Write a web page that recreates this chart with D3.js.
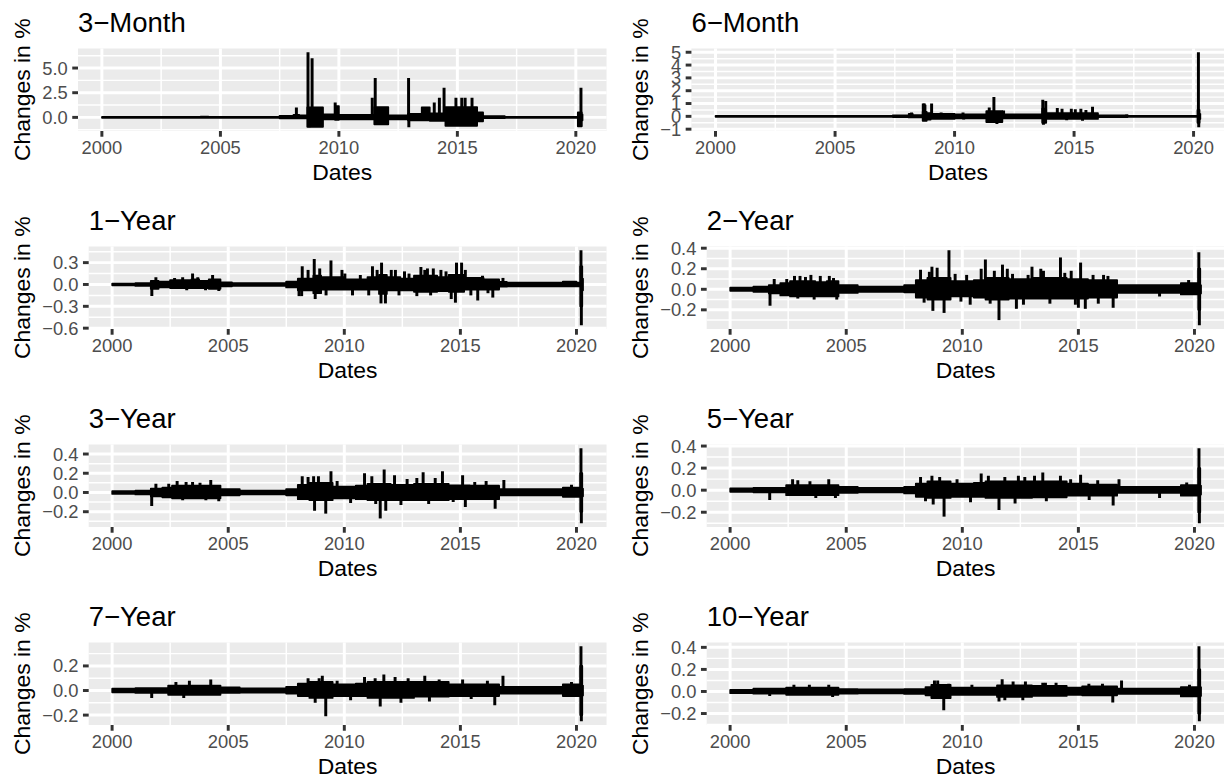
<!DOCTYPE html>
<html>
<head>
<meta charset="utf-8">
<script src="https://cdn.jsdelivr.net/npm/d3@7"></script>
<style>
  body { margin: 0; background: #ffffff; }
  svg { display: block; font-family: "Liberation Sans", Arial, Helvetica, sans-serif; }
</style>
</head>
<body>
<div id="chart"></div>
<script>
// Daily changes in yields (in %) by maturity, 2000 – Apr 2020.
// A daily series is far too dense to type out, so each panel is kept as
// an envelope of the noise band ([date, high, low], held until the next
// row) plus the individual spikes that stick out of it, all read off
// the picture.

const TITLES = ["3\u2212Month", "6\u2212Month", "1\u2212Year", "2\u2212Year",
                "3\u2212Year", "5\u2212Year", "7\u2212Year", "10\u2212Year"];
const X_TICKS = [2000, 2005, 2010, 2015, 2020];
const DATE_START = "2000-01-03";
const DATE_END = "2020-04-13";

const ticks3M = [0, 2.5, 5];
const ticks6M = [-1, 0, 1, 2, 3, 4, 5];
const ticks1Y = [-0.6, -0.3, 0, 0.3];
const ticks2Y = [-0.2, 0, 0.2, 0.4];
const ticks3Y = [-0.2, 0, 0.2, 0.4];
const ticks5Y = [-0.2, 0, 0.2, 0.4];
const ticks7Y = [-0.2, 0, 0.2];
const ticks10Y = [-0.2, 0, 0.2, 0.4];

const band3M = [
  ["2000-01", 0.04, -0.04], ["2004-03", 0.08, -0.04], ["2004-07", 0.04, -0.04],
  ["2007-07", 0.15, -0.1], ["2008-02", 0.25, -0.1], ["2008-05", 0.2, -0.1],
  ["2008-09", 1.0, -0.95], ["2009-05", 0.3, -0.2], ["2009-11", 1.15, -0.25],
  ["2010-01", 0.25, -0.2], ["2011-07", 1.05, -0.7], ["2012-02", 0.2, -0.2],
  ["2012-12", 0.35, -0.3], ["2013-07", 1.0, -0.3], ["2013-11", 0.4, -0.35],
  ["2014-07", 1.05, -0.85], ["2015-11", 0.5, -0.4], ["2016-02", 0.12, -0.08],
  ["2017-01", 0.05, -0.05], ["2020-02", 0.5, -0.9], ["2020-04", 0.3, -0.3],
];
const spikes3M = [
  ["2008-03-17", 1.0], ["2008-09-12", 6.6], ["2008-11-14", 6.0], ["2008-10-01", -1.0],
  ["2009-11-05", 1.5], ["2011-05-30", 2.0], ["2011-07-15", 4.0], ["2012-12-10", 4.0],
  ["2012-12-14", -1.0], ["2014-01-10", 1.5], ["2014-03-30", 2.0], ["2014-06-10", 3.0],
  ["2014-12-10", 2.0], ["2015-03-10", 2.0], ["2015-05-01", 2.0], ["2015-08-15", 2.0],
  ["2020-03-20", 3.0], ["2020-03-16", -0.9],
];

const band6M = [
  ["2000-01", 0.04, -0.04], ["2007-06", 0.07, -0.06], ["2008-02", 0.2, -0.08],
  ["2008-04", 0.1, -0.08], ["2008-09", 0.35, -0.35], ["2008-11", 0.25, -0.25],
  ["2009-01", 0.2, -0.2], ["2010-01", 0.15, -0.15], ["2011-05", 0.4, -0.45],
  ["2012-01", 0.15, -0.15], ["2013-09", 0.6, -0.5], ["2013-11", 0.25, -0.2],
  ["2016-01", 0.08, -0.05], ["2017-04", 0.04, -0.04], ["2020-03", 0.5, -0.5],
  ["2020-04", 0.2, -0.2],
];
const spikes6M = [
  ["2008-03-15", 0.3], ["2008-09-10", 1.0], ["2008-09-25", 1.0], ["2008-10-05", 0.9],
  ["2009-01-15", 1.0], ["2009-06-10", 0.3], ["2010-05-10", 0.3], ["2010-05-20", -0.25],
  ["2011-06-15", 0.7], ["2011-08-25", 1.5], ["2011-10-10", -0.6], ["2012-01-20", 0.45],
  ["2013-09-10", 1.3], ["2013-10-25", 1.2], ["2013-09-20", -0.65], ["2014-04-20", 0.65],
  ["2014-07-01", 0.6], ["2014-11-20", 0.6], ["2015-01-20", 0.55], ["2015-04-15", 0.6],
  ["2015-07-01", 0.5], ["2015-10-10", 0.75], ["2014-09-10", -0.3], ["2015-05-10", -0.35],
  ["2017-03-15", 0.15], ["2020-03-15", 5.0], ["2020-03-20", -0.85],
];

const band1Y = [
  ["2000-01", 0.012, -0.012], ["2001-01", 0.02, -0.02], ["2001-09", 0.05, -0.06],
  ["2002-01", 0.04, -0.04], ["2002-07", 0.06, -0.05], ["2003-06", 0.07, -0.05],
  ["2003-10", 0.05, -0.05], ["2004-03", 0.07, -0.06], ["2004-09", 0.03, -0.025],
  ["2005-03", 0.02, -0.02], ["2007-07", 0.04, -0.04], ["2008-01", 0.08, -0.08],
  ["2008-09", 0.12, -0.12], ["2009-01", 0.1, -0.07], ["2010-01", 0.07, -0.07],
  ["2011-01", 0.1, -0.07], ["2011-07", 0.13, -0.13], ["2011-11", 0.1, -0.08],
  ["2012-06", 0.08, -0.08], ["2013-01", 0.12, -0.1], ["2014-01", 0.1, -0.09],
  ["2014-07", 0.13, -0.1], ["2015-03", 0.09, -0.07], ["2016-01", 0.07, -0.07],
  ["2016-09", 0.035, -0.03], ["2017-01", 0.025, -0.025], ["2019-06", 0.04, -0.025],
  ["2020-01", 0.025, -0.025], ["2020-03", 0.25, -0.3], ["2020-04", 0.08, -0.08],
];
const spikes1Y = [
  ["2001-09-17", -0.16], ["2001-11-20", 0.1], ["2002-09-10", 0.09], ["2003-01-15", 0.1],
  ["2003-03-20", -0.08], ["2003-06-20", 0.15], ["2003-09-10", 0.1], ["2004-01-10", -0.08],
  ["2004-04-30", 0.13], ["2004-08-06", -0.09], ["2008-01-20", -0.16], ["2008-03-10", 0.25],
  ["2008-03-01", -0.16], ["2008-06-10", 0.2], ["2008-09-15", 0.35], ["2008-09-30", -0.2],
  ["2008-12-10", 0.22], ["2009-03-20", -0.15], ["2009-06-05", 0.33], ["2009-11-25", 0.2],
  ["2010-01-10", 0.15], ["2010-05-10", -0.15], ["2010-09-10", 0.13], ["2011-01-20", -0.15],
  ["2011-03-20", 0.25], ["2011-06-01", 0.2], ["2011-08-10", 0.3], ["2011-08-01", -0.26],
  ["2011-10-10", -0.26], ["2012-01-10", 0.2], ["2012-03-15", 0.2], ["2012-05-10", -0.15],
  ["2012-08-05", 0.18], ["2012-10-15", 0.15], ["2013-02-15", -0.16], ["2013-04-20", 0.24],
  ["2013-06-20", 0.2], ["2013-08-01", 0.22], ["2013-09-20", -0.15], ["2013-11-01", 0.22],
  ["2014-03-01", 0.2], ["2014-05-20", 0.18], ["2014-08-10", -0.2], ["2014-10-15", -0.25],
  ["2014-11-01", 0.3], ["2015-01-20", 0.3], ["2015-03-20", 0.2], ["2015-06-15", -0.15],
  ["2015-10-01", -0.22], ["2015-12-15", 0.12], ["2016-03-10", -0.12], ["2016-05-25", -0.18],
  ["2016-11-01", 0.09], ["2020-03-12", 0.47], ["2020-03-18", -0.56],
];

const band2Y = [
  ["2000-01", 0.015, -0.015], ["2001-01", 0.025, -0.025], ["2001-09", 0.04, -0.04],
  ["2002-03", 0.06, -0.06], ["2002-08", 0.08, -0.07], ["2003-09", 0.07, -0.07],
  ["2004-03", 0.08, -0.07], ["2004-09", 0.04, -0.035], ["2005-07", 0.025, -0.025],
  ["2007-07", 0.04, -0.03], ["2008-01", 0.09, -0.08], ["2008-07", 0.11, -0.1],
  ["2009-07", 0.08, -0.07], ["2010-07", 0.09, -0.08], ["2011-01", 0.11, -0.1],
  ["2012-01", 0.1, -0.09], ["2013-01", 0.11, -0.09], ["2014-07", 0.1, -0.09],
  ["2015-06", 0.09, -0.08], ["2016-09", 0.04, -0.035], ["2019-06", 0.06, -0.05],
  ["2020-03", 0.2, -0.2], ["2020-04", 0.04, -0.04],
];
const spikes2Y = [
  ["2001-09-20", -0.16], ["2001-11-25", 0.1], ["2002-06-10", 0.1], ["2002-10-10", 0.13],
  ["2002-12-01", -0.09], ["2003-01-05", 0.13], ["2003-04-01", 0.12], ["2003-06-25", 0.14],
  ["2003-08-15", -0.1], ["2003-11-20", 0.13], ["2004-04-10", 0.13], ["2004-06-15", 0.11],
  ["2004-08-05", -0.1], ["2008-03-15", 0.19], ["2008-05-10", -0.13], ["2008-08-01", 0.17],
  ["2008-09-10", 0.22], ["2008-09-25", -0.21], ["2008-12-01", 0.21], ["2009-03-20", -0.23],
  ["2009-06-05", 0.38], ["2009-09-10", 0.15], ["2009-12-10", -0.12], ["2010-03-10", 0.14],
  ["2010-05-05", -0.15], ["2010-10-25", 0.2], ["2010-12-30", 0.29], ["2011-03-15", -0.14],
  ["2011-05-20", 0.18], ["2011-08-01", -0.3], ["2011-09-25", 0.24], ["2011-12-10", 0.2],
  ["2012-03-01", 0.15], ["2012-05-01", -0.19], ["2012-08-20", -0.15], ["2012-11-01", 0.14],
  ["2013-01-01", 0.22], ["2013-05-20", 0.2], ["2013-07-01", 0.18], ["2013-10-10", -0.14],
  ["2014-03-25", 0.31], ["2014-06-01", 0.16], ["2014-09-10", 0.18], ["2014-11-15", -0.15],
  ["2015-01-01", -0.18], ["2015-02-05", 0.26], ["2015-04-20", -0.19], ["2015-08-20", 0.14],
  ["2015-11-10", -0.14], ["2016-02-01", 0.14], ["2016-04-10", 0.13], ["2016-07-01", -0.18],
  ["2018-07-01", -0.07], ["2019-10-01", 0.09], ["2020-03-10", 0.36], ["2020-03-18", -0.35],
];

const band3Y = [
  ["2000-01", 0.015, -0.015], ["2001-01", 0.02, -0.02], ["2001-09", 0.04, -0.04],
  ["2002-03", 0.05, -0.05], ["2002-08", 0.07, -0.06], ["2004-09", 0.035, -0.03],
  ["2005-07", 0.02, -0.02], ["2007-07", 0.035, -0.03], ["2008-01", 0.08, -0.07],
  ["2008-07", 0.1, -0.08], ["2009-07", 0.06, -0.06], ["2010-07", 0.07, -0.07],
  ["2011-01", 0.09, -0.08], ["2012-01", 0.08, -0.08], ["2013-01", 0.09, -0.08],
  ["2014-07", 0.075, -0.07], ["2015-06", 0.07, -0.07], ["2016-09", 0.035, -0.03],
  ["2019-06", 0.05, -0.045], ["2020-03", 0.2, -0.2], ["2020-04", 0.04, -0.04],
];
const spikes3Y = [
  ["2001-09-15", -0.14], ["2001-11-20", 0.09], ["2002-06-10", 0.09], ["2002-10-20", 0.12],
  ["2003-01-15", -0.08], ["2003-03-10", 0.11], ["2003-06-20", 0.11], ["2003-10-15", 0.1],
  ["2004-01-15", -0.08], ["2004-04-01", 0.13], ["2004-08-05", -0.09], ["2008-03-10", 0.17],
  ["2008-06-10", 0.16], ["2008-09-05", 0.17], ["2008-09-20", -0.19], ["2008-11-20", 0.17],
  ["2009-03-15", -0.22], ["2009-06-05", 0.22], ["2009-09-10", 0.12], ["2010-04-10", -0.11],
  ["2010-11-15", 0.2], ["2011-03-10", 0.17], ["2011-05-10", -0.12], ["2011-07-20", -0.27],
  ["2011-09-20", 0.24], ["2011-10-15", -0.19], ["2012-03-01", 0.18], ["2012-06-10", -0.13],
  ["2012-09-15", 0.14], ["2013-02-15", 0.15], ["2013-05-25", 0.21], ["2013-08-20", -0.12],
  ["2013-12-01", 0.15], ["2014-03-25", 0.22], ["2014-09-10", -0.1], ["2015-02-05", 0.18],
  ["2015-03-20", -0.15], ["2015-08-15", 0.11], ["2016-02-10", 0.12], ["2016-07-01", -0.17],
  ["2016-11-15", 0.13], ["2019-10-15", 0.08], ["2020-03-12", 0.46], ["2020-03-18", -0.32],
];

const band5Y = [
  ["2000-01", 0.015, -0.015], ["2001-01", 0.02, -0.02], ["2002-06", 0.045, -0.045],
  ["2004-09", 0.03, -0.025], ["2005-07", 0.02, -0.02], ["2007-07", 0.03, -0.03],
  ["2008-01", 0.06, -0.06], ["2008-07", 0.08, -0.07], ["2009-07", 0.06, -0.06],
  ["2010-07", 0.065, -0.06], ["2011-01", 0.08, -0.07], ["2013-01", 0.08, -0.065],
  ["2014-07", 0.06, -0.05], ["2015-06", 0.05, -0.05], ["2016-09", 0.03, -0.025],
  ["2019-06", 0.045, -0.05], ["2020-03", 0.2, -0.2], ["2020-04", 0.04, -0.04],
];
const spikes5Y = [
  ["2001-09-15", -0.09], ["2002-09-10", 0.1], ["2002-12-01", 0.09], ["2003-06-10", 0.08],
  ["2003-09-10", -0.07], ["2004-04-01", 0.1], ["2004-07-15", -0.07], ["2008-03-15", 0.12],
  ["2008-06-01", -0.1], ["2008-09-10", 0.13], ["2008-09-30", -0.13], ["2009-01-10", 0.12],
  ["2009-03-20", -0.24], ["2009-10-10", 0.1], ["2010-05-10", -0.11], ["2010-10-25", 0.15],
  ["2011-02-15", 0.13], ["2011-08-01", -0.18], ["2011-11-01", 0.12], ["2012-04-10", -0.12],
  ["2012-06-01", 0.13], ["2012-09-10", 0.12], ["2013-02-10", 0.13], ["2013-06-20", 0.16],
  ["2013-08-15", -0.1], ["2014-03-25", 0.13], ["2014-09-01", 0.1], ["2015-02-05", 0.14],
  ["2015-06-20", -0.09], ["2015-11-01", 0.09], ["2016-07-01", -0.14], ["2016-10-01", 0.1],
  ["2018-07-01", -0.07], ["2019-09-01", 0.07], ["2020-03-12", 0.38], ["2020-03-18", -0.30],
];

const band7Y = [
  ["2000-01", 0.015, -0.015], ["2001-01", 0.02, -0.02], ["2002-06", 0.04, -0.035],
  ["2004-09", 0.025, -0.02], ["2005-07", 0.018, -0.018], ["2007-07", 0.03, -0.025],
  ["2008-01", 0.055, -0.045], ["2008-07", 0.07, -0.06], ["2009-07", 0.05, -0.045],
  ["2010-07", 0.055, -0.045], ["2011-01", 0.07, -0.06], ["2013-01", 0.07, -0.05],
  ["2014-07", 0.05, -0.045], ["2015-06", 0.05, -0.045], ["2016-09", 0.03, -0.025],
  ["2019-06", 0.05, -0.045], ["2020-03", 0.2, -0.2], ["2020-04", 0.04, -0.04],
];
const spikes7Y = [
  ["2001-09-15", -0.06], ["2002-10-01", 0.07], ["2003-02-01", -0.06], ["2003-05-01", 0.08],
  ["2004-04-01", 0.09], ["2008-06-10", 0.1], ["2008-09-30", -0.1], ["2008-12-01", 0.1],
  ["2009-01-20", 0.12], ["2009-03-15", -0.21], ["2009-09-10", 0.08], ["2010-04-10", -0.08],
  ["2010-11-15", 0.11], ["2011-05-01", 0.1], ["2011-07-20", -0.13], ["2011-09-15", 0.13],
  ["2012-03-10", 0.11], ["2012-06-10", -0.1], ["2012-10-01", 0.1], ["2013-06-20", 0.12],
  ["2013-09-01", -0.09], ["2014-02-01", 0.09], ["2015-02-05", 0.09], ["2015-06-20", -0.07],
  ["2016-03-01", 0.08], ["2016-06-25", -0.12], ["2016-11-01", 0.12], ["2019-10-15", 0.07],
  ["2020-03-12", 0.36], ["2020-03-18", -0.25],
];

const band10Y = [
  ["2000-01", 0.015, -0.015], ["2001-01", 0.025, -0.02], ["2002-06", 0.035, -0.03],
  ["2004-09", 0.022, -0.02], ["2005-07", 0.018, -0.018], ["2007-07", 0.022, -0.022],
  ["2008-06", 0.04, -0.035], ["2008-09", 0.06, -0.06], ["2009-07", 0.035, -0.03],
  ["2011-07", 0.055, -0.05], ["2013-01", 0.05, -0.04], ["2014-07", 0.035, -0.03],
  ["2015-03", 0.045, -0.035], ["2016-09", 0.025, -0.022], ["2019-06", 0.04, -0.045],
  ["2020-03", 0.2, -0.2], ["2020-04", 0.04, -0.04],
];
const spikes10Y = [
  ["2001-09-15", -0.04], ["2002-10-01", 0.06], ["2003-06-01", 0.06], ["2004-04-01", 0.06],
  ["2004-06-01", -0.05], ["2008-10-20", 0.1], ["2008-12-10", 0.1], ["2009-03-15", -0.17],
  ["2009-06-01", 0.07], ["2010-06-01", 0.06], ["2011-08-01", -0.09], ["2011-09-20", 0.11],
  ["2011-11-01", -0.08], ["2012-03-10", 0.09], ["2012-08-10", -0.08], ["2012-09-20", 0.09],
  ["2013-06-20", 0.08], ["2013-08-01", 0.08], ["2014-01-15", 0.08], ["2015-06-15", 0.07],
  ["2016-01-15", 0.07], ["2016-06-25", -0.1], ["2016-11-10", 0.1], ["2019-10-15", 0.06],
  ["2020-03-12", 0.41], ["2020-03-18", -0.27],
];

const panels = [
  { ticks: ticks3M, band: band3M, spikes: spikes3M, fmt: ".1f" },
  { ticks: ticks6M, band: band6M, spikes: spikes6M, fmt: "d" },
  { ticks: ticks1Y, band: band1Y, spikes: spikes1Y, fmt: ".1f" },
  { ticks: ticks2Y, band: band2Y, spikes: spikes2Y, fmt: ".1f" },
  { ticks: ticks3Y, band: band3Y, spikes: spikes3Y, fmt: ".1f" },
  { ticks: ticks5Y, band: band5Y, spikes: spikes5Y, fmt: ".1f" },
  { ticks: ticks7Y, band: band7Y, spikes: spikes7Y, fmt: ".1f" },
  { ticks: ticks10Y, band: band10Y, spikes: spikes10Y, fmt: ".1f" },
];

// ---- ggplot-ish theme, 150 dpi ----
const PT = 150 / 72;
const W = 1224, H = 782;
const CELL_W = 618, CELL_H = 198;
const MARGIN = 5.5 * PT;
const TICK_LEN = 2.75 * PT;
const LINE_W = 0.5 * 72.27 / 25.4 * PT;
const TEXT_SIZE = 8.8 * PT;
const TITLE_SIZE = 13.2 * PT;
const AXIS_TITLE_SIZE = 11 * PT;

const parseDay = d3.timeParse("%Y-%m-%d");
const parseMonth = d3.timeParse("%Y-%m");
const toDate = (s) => (s.length > 7 ? parseDay(s) : parseMonth(s));
const yearDate = (y) => new Date(y, 0, 1);

const start = toDate(DATE_START);
const end = toDate(DATE_END);
const span = end - start;
const xDomain = [new Date(+start - 0.05 * span), new Date(+end + 0.05 * span)];

const svg = d3.select("#chart").append("svg")
  .attr("width", W).attr("height", H);

panels.forEach((p, i) => {
  const col = i % 2, row = Math.floor(i / 2);
  const cellX = col * CELL_W, cellY = row * CELL_H;
  const g = svg.append("g");

  // y tick labels first, to know how wide they are
  const fmt = d3.format(p.fmt);
  const labels = g.append("g")
    .attr("font-size", TEXT_SIZE).attr("fill", "#4D4D4D").attr("text-anchor", "end");
  const labelNodes = labels.selectAll("text").data(p.ticks).join("text").text(fmt);
  const labelW = d3.max(labelNodes.nodes(), (n) => n.getComputedTextLength());

  const left = cellX + MARGIN + 25 + TICK_LEN + labelW + 2.2 * PT + TICK_LEN;
  const right = cellX + CELL_W - MARGIN;
  const top = cellY + 48.5;
  const bottom = cellY + 131;

  const values = p.band.flatMap((d) => [d[1], d[2]]).concat(p.spikes.map((d) => d[1]));
  const [lo, hi] = d3.extent(values);
  const pad = 0.05 * (hi - lo);
  const x = d3.scaleTime().domain(xDomain).range([left, right]);
  const y = d3.scaleLinear().domain([lo - pad, hi + pad]).range([bottom, top]);

  labelNodes
    .attr("x", left - TICK_LEN - 2.2 * PT)
    .attr("y", (d) => y(d))
    .attr("dy", "0.358em");

  // panel + grid
  g.insert("rect", ":first-child")
    .attr("x", left).attr("y", top)
    .attr("width", right - left).attr("height", bottom - top)
    .attr("fill", "#EBEBEB");

  const step = p.ticks[1] - p.ticks[0];
  const yMinor = [p.ticks[0] - step / 2, ...p.ticks.map((t) => t + step / 2)]
    .filter((v) => v > y.domain()[0] && v < y.domain()[1]);
  const xMajor = X_TICKS.map(yearDate);
  const xMinor = [X_TICKS[0] - 5, ...X_TICKS]
    .map((yr) => new Date((+yearDate(yr) + +yearDate(yr + 5)) / 2))
    .filter((d) => d > xDomain[0] && d < xDomain[1]);

  const grid = g.append("g").attr("stroke", "#ffffff");
  grid.selectAll(".ymin").data(yMinor).join("line")
    .attr("x1", left).attr("x2", right).attr("y1", y).attr("y2", y)
    .attr("stroke-width", LINE_W / 2);
  grid.selectAll(".xmin").data(xMinor).join("line")
    .attr("x1", x).attr("x2", x).attr("y1", top).attr("y2", bottom)
    .attr("stroke-width", LINE_W / 2);
  grid.selectAll(".ymaj").data(p.ticks).join("line")
    .attr("x1", left).attr("x2", right).attr("y1", y).attr("y2", y)
    .attr("stroke-width", LINE_W);
  grid.selectAll(".xmaj").data(xMajor).join("line")
    .attr("x1", x).attr("x2", x).attr("y1", top).attr("y2", bottom)
    .attr("stroke-width", LINE_W);

  // the series: noise band + spikes, clipped to the panel
  const clipId = `clip-${i}`;
  g.append("clipPath").attr("id", clipId).append("rect")
    .attr("x", left).attr("y", top)
    .attr("width", right - left).attr("height", bottom - top);
  const data = g.append("g").attr("clip-path", `url(#${clipId})`);

  // each band row holds until the next one; the first starts with the data
  const bandRows = p.band.map((d) => {
    const date = toDate(d[0]);
    return { date: date < start ? start : date, hi: d[1], lo: d[2] };
  });
  const last = bandRows[bandRows.length - 1];
  bandRows.push({ date: end, hi: last.hi, lo: last.lo });

  const area = d3.area()
    .curve(d3.curveStepAfter)
    .x((d) => x(d.date))
    .y0((d) => y(d.lo))
    .y1((d) => y(d.hi));
  data.append("path")
    .attr("d", area(bandRows))
    .attr("fill", "#000000")
    .attr("stroke", "#000000")
    .attr("stroke-width", LINE_W * 0.6)
    .attr("stroke-linejoin", "round");

  const spikeLine = d3.line().x((d) => x(d[0])).y((d) => y(d[1]));
  data.selectAll(".spike").data(p.spikes).join("path")
    .attr("d", (d) => spikeLine([[toDate(d[0]), 0], [toDate(d[0]), d[1]]]))
    .attr("fill", "none")
    .attr("stroke", "#000000")
    .attr("stroke-width", LINE_W)
    .attr("stroke-linejoin", "round");

  // axis ticks
  const tickG = g.append("g").attr("stroke", "#333333").attr("stroke-width", LINE_W);
  tickG.selectAll(".yt").data(p.ticks).join("line")
    .attr("x1", left - TICK_LEN).attr("x2", left).attr("y1", y).attr("y2", y);
  tickG.selectAll(".xt").data(xMajor).join("line")
    .attr("x1", x).attr("x2", x).attr("y1", bottom).attr("y2", bottom + TICK_LEN);

  g.append("g")
    .attr("font-size", TEXT_SIZE).attr("fill", "#4D4D4D").attr("text-anchor", "middle")
    .selectAll("text").data(X_TICKS).join("text")
    .attr("x", (d) => x(yearDate(d)))
    .attr("y", bottom + 23.4)
    .text((d) => d);

  // titles
  g.append("text")
    .attr("x", left).attr("y", cellY + 31.5)
    .attr("font-size", TITLE_SIZE).attr("fill", "#000000")
    .text(TITLES[i]);
  g.append("text")
    .attr("x", (left + right) / 2).attr("y", bottom + 49.4)
    .attr("font-size", AXIS_TITLE_SIZE).attr("fill", "#000000")
    .attr("text-anchor", "middle")
    .text("Dates");
  g.append("text")
    .attr("transform", `translate(${cellX + 30},${(top + bottom) / 2}) rotate(-90)`)
    .attr("font-size", AXIS_TITLE_SIZE).attr("fill", "#000000")
    .attr("text-anchor", "middle")
    .text("Changes in %");
});
</script>
</body>
</html>
